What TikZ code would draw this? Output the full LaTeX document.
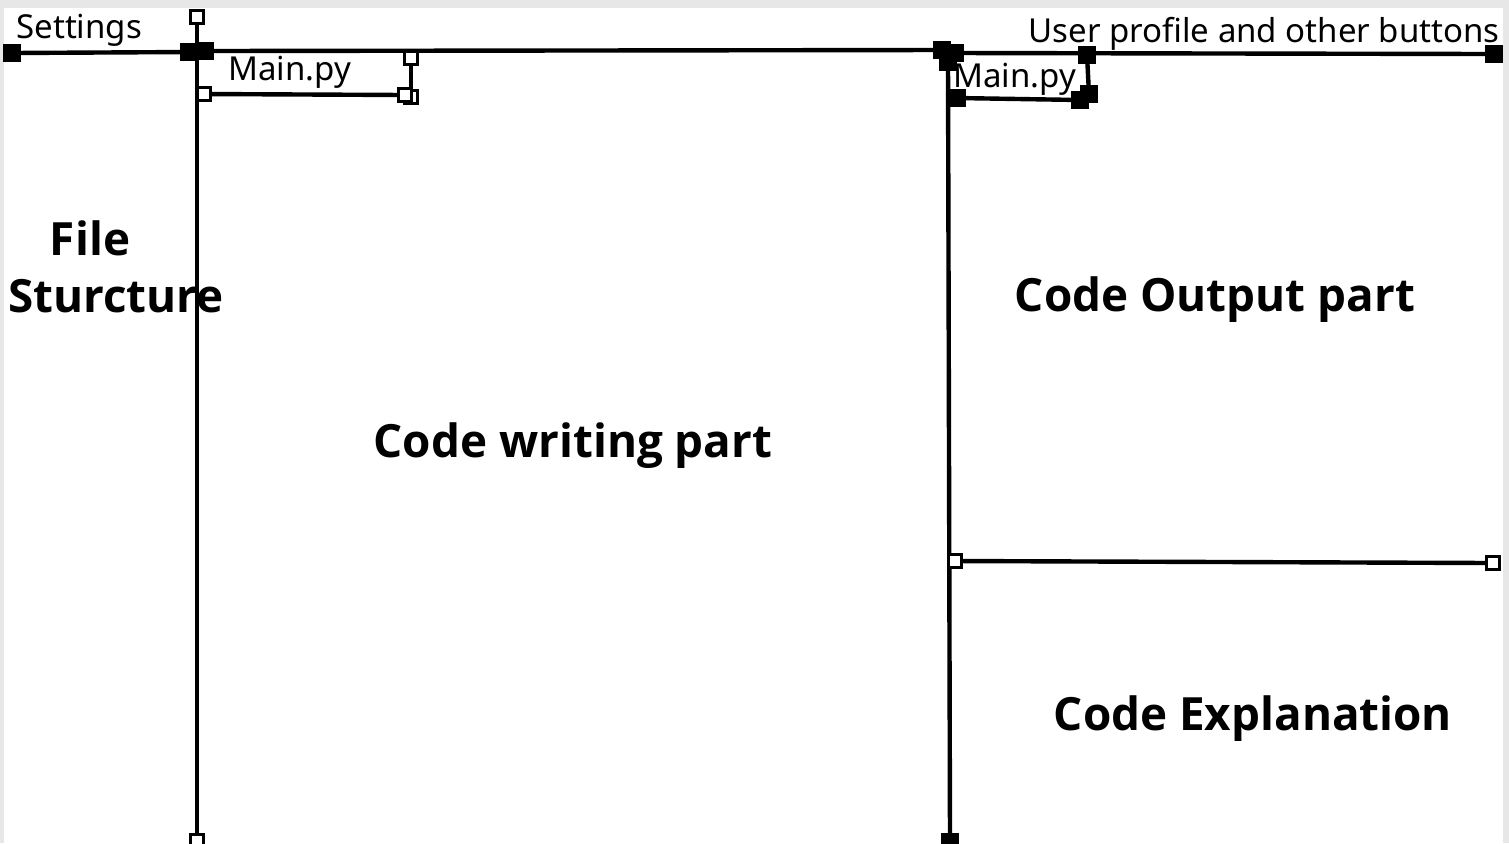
\documentclass[tikz,border=0pt]{standalone}
\usepackage{fontspec}
\setmainfont{Noto Sans}
\newfontfamily\bigfont{Open Sans}
\pgfdeclarelayer{bg}
\pgfdeclarelayer{lines}
\pgfsetlayers{bg,lines,main}
\begin{document}
\begin{tikzpicture}[x=0.5pt,y=-0.5pt,
  ln/.style={line width=2.2pt},
  fsq/.style={draw,fill=black,rectangle,minimum size=8pt,inner sep=0pt,line width=0.6pt},
  osq/.style={draw,fill=white,rectangle,minimum size=6.4pt,inner sep=0pt,line width=1.8pt},
  lbl/.style={font=\fontsize{16.5}{19}\selectfont,inner sep=0pt},
  big/.style={font=\bigfont\bfseries\fontsize{22.9}{27}\selectfont,inner sep=0pt}]
\useasboundingbox (0,0) rectangle (1509,843);
\begin{pgfonlayer}{bg}
\fill[black!3!gray!18] (0,0) rectangle (1509,843);
\fill[white] (4,8) rectangle (1503,843);
\end{pgfonlayer}
% squares
\node[fsq] (st1) at (12,53) {};
\node[fsq] (st2) at (189,52) {};
\node[fsq] (tm1) at (205,51) {};
\node[fsq] (tm2) at (942,50) {};
\node[fsq] (tr1) at (955,53) {};
\node[fsq] (tr2) at (1494,54) {};
\node[osq] (lv1) at (197,17) {};
\node[osq] (lv2) at (197,841) {};
\node[fsq] (rv1) at (948,62) {};
\node[fsq] (rv2) at (950,842) {};
\node[osq] (lh1) at (204,94) {};
\node[osq] (lw2) at (411,97) {};
\node[osq] (lh2) at (405,95) {};
\node[osq] (lw1) at (411,58) {};
\node[fsq] (rh1) at (957,98) {};
\node[fsq] (rh2) at (1080,100) {};
\node[fsq] (rw1) at (1087,55) {};
\node[fsq] (rw2) at (1089,94) {};
\node[osq] (mh1) at (955,561) {};
\node[osq] (mh2) at (1493,563) {};
% connectors
\begin{pgfonlayer}{lines}
\draw[ln] (st1.center) -- (st2.center);
\draw[ln] (tm1.center) -- (tm2.center);
\draw[ln] (tr1.center) -- (tr2.center);
\draw[ln] (lv1) -- (lv2);
\draw[ln] (rv1.center) -- (rv2.center);
\draw[ln] (lh1) -- (lh2);
\draw[ln] (lw1) -- (lw2);
\draw[ln] (rh1.center) -- (rh2.center);
\draw[ln] (rw1.center) -- (rw2.center);
\draw[ln] (mh1) -- (mh2);
\end{pgfonlayer}
% labels
\node[lbl,anchor=base west] (settings) at (16,38) {Settings};
\node[lbl,anchor=base west] (mainl) at (228,80) {Main.py};
\node[lbl,anchor=base west] (mainr) at (953,87) {Main.py};
\node[lbl,anchor=base east] (user) at (1500,42) {User profile and other buttons};
\node[big,anchor=base] (file) at (90,255) {File};
\node[big,anchor=base] (sturc) at (116,312) {Sturcture};
\node[big,anchor=base] (cwp) at (573,457) {Code writing part};
\node[big,anchor=base] (cop) at (1215,311) {Code Output part};
\node[big,anchor=base] (cex) at (1253,730) {Code Explanation};
\end{tikzpicture}
\end{document}
